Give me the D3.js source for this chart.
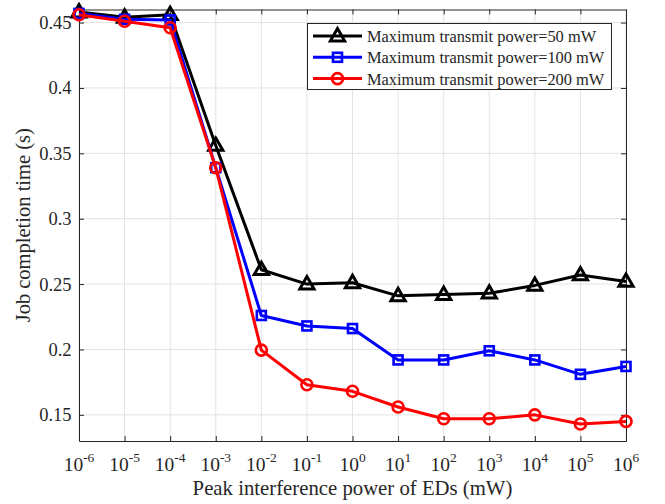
<!DOCTYPE html>
<html>
<head>
<meta charset="utf-8">
<script src="https://cdn.jsdelivr.net/npm/d3@7/dist/d3.min.js"></script>
<style>
  body { margin: 0; background: #fff; }
  svg { display: block; }
  text { font-family: "Liberation Serif", "Times New Roman", serif; fill: #262626; }
</style>
</head>
<body>
<svg id="chart" width="665" height="504"></svg>
<script>
// Peak interference power exponents (10^k mW)
const exponents = [-6, -5, -4, -3, -2, -1, 0, 1, 2, 3, 4, 5, 6];
// Job completion time (s) for each maximum transmit power
const p50  = [0.458, 0.454, 0.456, 0.356, 0.261, 0.250, 0.251, 0.241, 0.242, 0.243, 0.249, 0.257, 0.252];
const p100 = [0.457, 0.4525, 0.452, 0.339, 0.226, 0.218, 0.216, 0.192, 0.192, 0.199, 0.192, 0.181, 0.187];
const p200 = [0.456, 0.451, 0.446, 0.339, 0.1995, 0.173, 0.168, 0.156, 0.147, 0.147, 0.150, 0.143, 0.145];
const yTicks = [0.15, 0.2, 0.25, 0.3, 0.35, 0.4, 0.45];
const seriesNames = ["Maximum transmit power=50 mW", "Maximum transmit power=100 mW", "Maximum transmit power=200 mW"];
const seriesColors = ["#000000", "#0000ff", "#ff0000"];
const seriesMarkers = ["triangle", "square", "circle"];

const svg = d3.select("#chart");
const L = 79, R = 626, T = 9.5, B = 441;

const x = d3.scaleLog().domain([1e-6, 1e6]).range([L, R]);
const y = d3.scaleLinear().domain([0.13, 0.46]).range([B, T]);
const xTicks = exponents.map(e => Math.pow(10, e));

// grid
const grid = svg.append("g");
grid.selectAll("line.gx").data(xTicks).join("line")
  .attr("x1", d => x(d)).attr("x2", d => x(d)).attr("y1", T).attr("y2", B)
  .attr("stroke", "#e3e3e3").attr("stroke-width", 1);
grid.selectAll("line.gy").data(yTicks).join("line")
  .attr("x1", L).attr("x2", R).attr("y1", d => y(d)).attr("y2", d => y(d))
  .attr("stroke", "#e3e3e3").attr("stroke-width", 1);

// axes (ticks drawn inward, box on all four sides)
const axisColor = "#262626";
const tickLen = 5;
const fmtY = d => String(+d.toFixed(2));

const xAxis = svg.append("g").attr("transform", `translate(0,${B})`)
  .call(d3.axisBottom(x).tickValues(xTicks).tickSizeInner(-tickLen).tickSizeOuter(0).tickFormat(() => ""));
const xAxisTop = svg.append("g").attr("transform", `translate(0,${T})`)
  .call(d3.axisTop(x).tickValues(xTicks).tickSizeInner(-tickLen).tickSizeOuter(0).tickFormat(() => ""));
const yAxis = svg.append("g").attr("transform", `translate(${L},0)`)
  .call(d3.axisLeft(y).tickValues(yTicks).tickSizeInner(-tickLen).tickSizeOuter(0).tickPadding(7.5).tickFormat(fmtY));
const yAxisRight = svg.append("g").attr("transform", `translate(${R},0)`)
  .call(d3.axisRight(y).tickValues(yTicks).tickSizeInner(-tickLen).tickSizeOuter(0).tickFormat(() => ""));

[xAxis, xAxisTop, yAxis, yAxisRight].forEach(g => {
  g.attr("font-family", null);
  g.selectAll("path").attr("stroke", axisColor).attr("stroke-width", 1);
  g.selectAll("line").attr("stroke", axisColor);
});
yAxis.selectAll("text").attr("font-size", 18.5).attr("fill", axisColor);

// x tick labels as 10^k
const xl = svg.append("g");
exponents.forEach(e => {
  const t = xl.append("text").attr("x", x(Math.pow(10, e))).attr("y", 471)
    .attr("text-anchor", "middle").attr("font-size", 19.5);
  t.append("tspan").text("10");
  t.append("tspan").attr("dy", -9).attr("font-size", 13.5).text(e < 0 ? "-" + Math.abs(e) : String(e));
});

// axis titles
svg.append("text").attr("x", (L + R) / 2).attr("y", 495).attr("text-anchor", "middle")
  .attr("font-size", 20.75).text("Peak interference power of EDs (mW)");
svg.append("text").attr("transform", `translate(29.5,${(T + B) / 2}) rotate(-90)`)
  .attr("text-anchor", "middle").attr("font-size", 20.5).text("Job completion time (s)");

// markers
function drawMarker(g, type, cx, cy, color) {
  if (type === "triangle") {
    const s = 7.5;
    g.append("path")
      .attr("d", `M${cx},${cy - s} L${cx + s * 0.95},${cy + s * 0.65} L${cx - s * 0.95},${cy + s * 0.65} Z`)
      .attr("fill", "none").attr("stroke", color).attr("stroke-width", 3);
  } else if (type === "square") {
    g.append("rect").attr("x", cx - 4.5).attr("y", cy - 4.5).attr("width", 9).attr("height", 9)
      .attr("fill", "none").attr("stroke", color).attr("stroke-width", 2.6);
  } else {
    g.append("circle").attr("cx", cx).attr("cy", cy).attr("r", 5.5)
      .attr("fill", "none").attr("stroke", color).attr("stroke-width", 2.6);
  }
}

const allSeries = [p50, p100, p200];
const line = d3.line().x((d, i) => x(Math.pow(10, exponents[i]))).y(d => y(d));
const plot = svg.append("g");
allSeries.forEach((vals, si) => {
  const g = plot.append("g");
  g.append("path").datum(vals).attr("d", line)
    .attr("fill", "none").attr("stroke", seriesColors[si]).attr("stroke-width", 3)
    .attr("stroke-linejoin", "round");
  vals.forEach((v, i) => drawMarker(g, seriesMarkers[si], x(Math.pow(10, exponents[i])), y(v), seriesColors[si]));
});

// legend
const lg = svg.append("g");
lg.append("rect").attr("x", 307.5).attr("y", 23.5).attr("width", 304).attr("height", 66)
  .attr("fill", "#fff").attr("stroke", axisColor).attr("stroke-width", 1);
seriesNames.forEach((name, i) => {
  const cy = 36 + i * 21.3;
  lg.append("line").attr("x1", 313).attr("x2", 362).attr("y1", cy).attr("y2", cy)
    .attr("stroke", seriesColors[i]).attr("stroke-width", 3);
  drawMarker(lg, seriesMarkers[i], 337.5, cy, seriesColors[i]);
  lg.append("text").attr("x", 367).attr("y", cy + 6).attr("font-size", 16.4).text(name);
});
</script>
</body>
</html>
